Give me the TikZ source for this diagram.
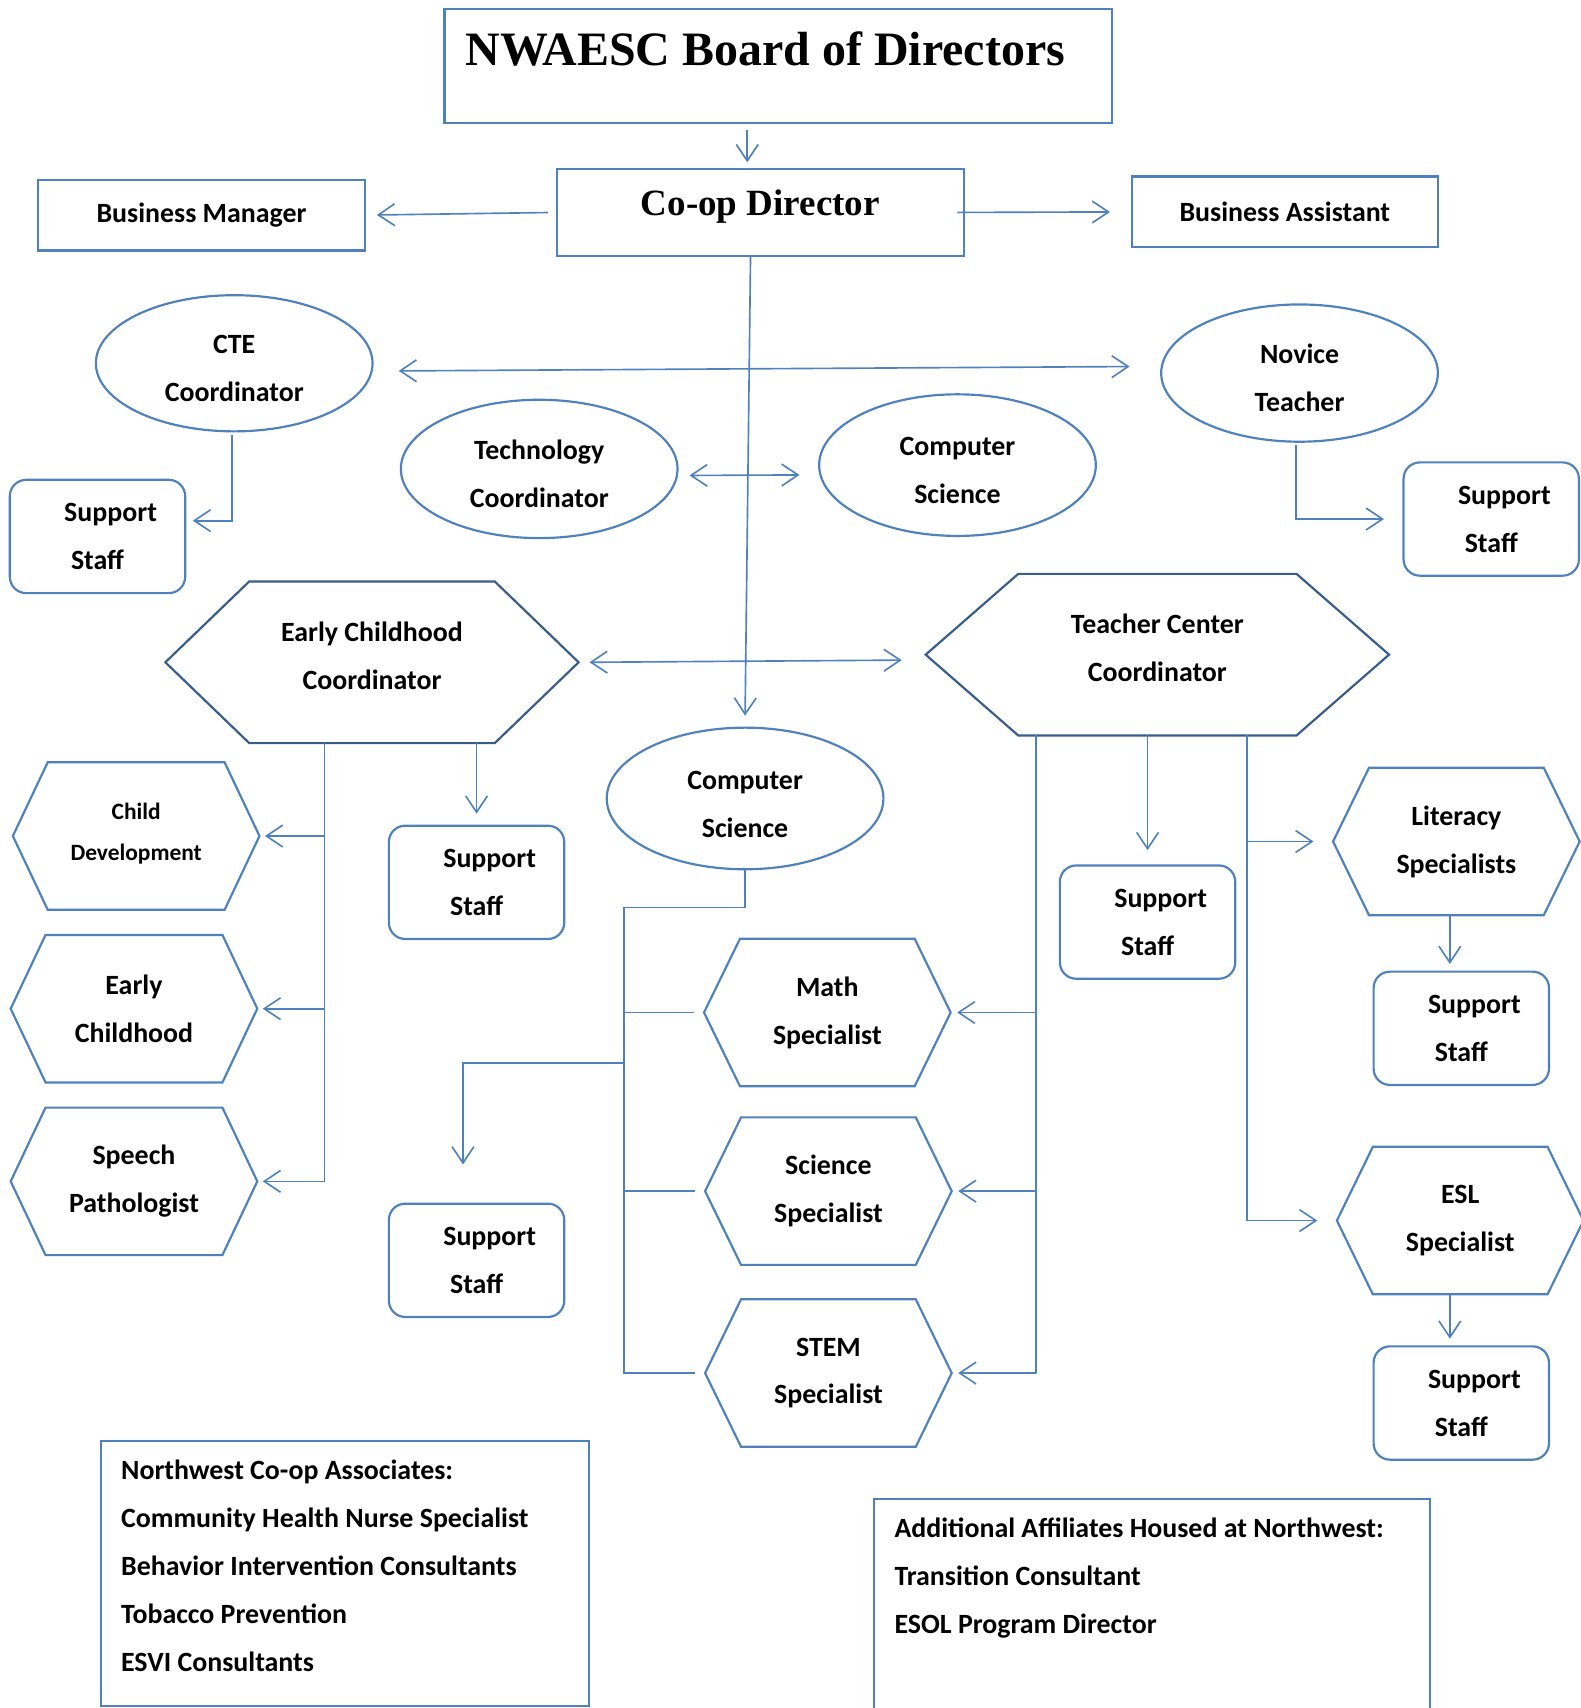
\documentclass[tikz,border=0pt]{standalone}
\usepackage{fontspec}
\setmainfont{Carlito}
\newfontfamily\timesf{Liberation Serif}
\usepackage{tikz}
\usetikzlibrary{shapes.geometric,arrows.meta,positioning,calc}
\definecolor{linec}{HTML}{4F81BD}
\definecolor{darkc}{HTML}{385D8A}
\newcommand{\sstext}{\hspace*{24pt}Support\\Staff}

\begin{document}
\begin{tikzpicture}[x=1pt, y=-1pt,
    lbl/.style={font=\fontsize{25.6}{44}\selectfont\bfseries, align=center},
    plainbox/.style={draw=linec, line width=2pt, rectangle, inner sep=0pt},
    ssbox/.style={lbl, draw=linec, line width=2pt, rounded corners=15pt, minimum width=161, minimum height=104, inner sep=0pt},
    oval/.style={lbl, draw=linec, line width=2pt, ellipse, inner sep=0pt, text height=71pt},
    hexa/.style={lbl, inner sep=0pt, minimum width=226, minimum height=135},
    conn/.style={draw=linec, line width=1.5pt},
    arr/.style={conn, -{Straight Barb[length=15pt, width=20pt]}},
    dblarr/.style={conn, {Straight Barb[length=15pt, width=20pt]}-{Straight Barb[length=15pt, width=20pt]}}]
    \useasboundingbox (0,0) rectangle (1451,1568);

    % top boxes
    \node[plainbox, minimum width=613, minimum height=105] (board) at (714.5,60.5) {};
    \node[font=\timesf\fontsize{44}{50}\selectfont\bfseries] (boardtxt) at (702.5,45) {NWAESC Board of Directors};
    \node[plainbox, minimum width=374, minimum height=80] (coop) at (698,195) {};
    \node[font=\timesf\fontsize{34}{40}\selectfont\bfseries] (cooptxt) at (698,190) {Co-op Director};
    \node[plainbox, lbl, minimum width=300, minimum height=65] (bmgr) at (185,197.5) {Business Manager};
    \node[plainbox, lbl, minimum width=281, minimum height=65] (basst) at (1179.5,194.5) {Business Assistant};

    % ellipses
    \node[oval, minimum width=254, minimum height=125] (cte) at (215,333.5) {CTE\\Coordinator};
    \node[oval, minimum width=254, minimum height=126] (nov) at (1193,342.5) {Novice\\Teacher};
    \node[oval, minimum width=254, minimum height=127] (tech) at (495,430.5) {Technology\\Coordinator};
    \node[oval, minimum width=254, minimum height=130] (cs1) at (879,427) {Computer\\Science};
    \node[oval, minimum width=254, minimum height=130] (cs2) at (684,733) {Computer\\Science};

    % hexagons
    \node[hexa, minimum width=379, minimum height=148, text depth=12pt] (ecc) at (341.5,608) {Early Childhood\\Coordinator};
    \node[hexa, minimum width=425, minimum height=148, text depth=12pt] (tcc) at (1062.5,601) {Teacher Center\\Coordinator};
    \node[hexa, font=\fontsize{21.5}{38}\selectfont\bfseries, text depth=8pt] (cd) at (125,767.5) {Child\\Development};
    \node[hexa] (ec) at (123,926) {Early\\Childhood};
    \node[hexa] (sp) at (123,1084.5) {Speech\\Pathologist};
    \node[hexa] (math) at (759.5,929.5) {Math\\Specialist};
    \node[hexa] (sci) at (760.5,1093.5) {Science\\Specialist};
    \node[hexa] (stem) at (760.5,1260.5) {STEM\\Specialist};
    \node[hexa] (lit) at (1337,772.5) {Literacy\\Specialists};
    \node[hexa] (esl) at (1340.5,1120.5) {ESL\\Specialist};
    \foreach \n/\c/\col in {ecc/77/darkc, tcc/85/darkc, cd/32/linec, ec/32/linec, sp/32/linec,
        math/33/linec, sci/33/linec, stem/33/linec, lit/33/linec, esl/33/linec}
        \draw[draw=\col, line width=2pt, line join=miter] (\n.west) -- ([xshift=\c pt]\n.north west) -- ([xshift=-\c pt]\n.north east)
            -- (\n.east) -- ([xshift=-\c pt]\n.south east) -- ([xshift=\c pt]\n.south west) -- cycle;

    % support staff
    \node[ssbox] (ss1) at (89.5,492.5) {\sstext};
    \node[ssbox] (ss2) at (1369,476.5) {\sstext};
    \node[ssbox] (ss3) at (437.5,810) {\sstext};
    \node[ssbox] (ss4) at (437.5,1157) {\sstext};
    \node[ssbox] (ss5) at (1053.5,846.5) {\sstext};
    \node[ssbox] (ss6) at (1341.5,944) {\sstext};
    \node[ssbox] (ss7) at (1341.5,1288) {\sstext};

    % info boxes
    \node[plainbox, minimum width=448, minimum height=243, anchor=north west] (assoc) at (92,1322) {};
    \node[lbl, align=left, inner sep=0pt, anchor=north west] (assoctxt) at ([xshift=19pt,yshift=-18pt]assoc.north west)
        {Northwest Co-op Associates:\\Community Health Nurse Specialist\\Behavior Intervention Consultants\\Tobacco Prevention\\ESVI Consultants};
    \node[plainbox, minimum width=511, minimum height=250, anchor=north west] (affil) at (801,1375) {};
    \node[lbl, align=left, inner sep=0pt, anchor=north west] (affiltxt) at ([xshift=20pt,yshift=-18pt]affil.north west)
        {Additional Affiliates Housed at Northwest:\\Transition Consultant\\ESOL Program Director};

    % connectors
    \draw[arr] ([xshift=-28.5pt,yshift=-5pt]board.south) -- ([xshift=-12pt,yshift=5pt]coop.north);
    \draw[arr, shorten <=7pt, shorten >=10pt] (coop.west) -- (bmgr.east);
    \draw[arr, shorten <=-7pt, shorten >=19pt] (coop.east) -- (basst.west);
    \draw[arr] ([xshift=-9pt]coop.south) -- ([yshift=10pt]cs2.north);
    \draw[dblarr] ([xshift=23pt,yshift=-7pt]cte.east) -- ([xshift=-28pt,yshift=6pt]nov.west);
    \draw[dblarr] ([xshift=10pt,yshift=-6pt]tech.east) -- ([xshift=-17pt,yshift=-9pt]cs1.west);
    \draw[arr] ([xshift=-2pt,yshift=-2pt]cte.south) |- ([xshift=6pt,yshift=14.5pt]ss1.east);
    \draw[arr] ([xshift=-3pt,yshift=-2pt]nov.south) |- ([xshift=-17pt]ss2.west);
    \draw[dblarr] ([xshift=10pt]ecc.east) -- ([xshift=-22pt,yshift=-5pt]tcc.west);

    % early childhood branch
    \coordinate (ecbus) at ([xshift=-43.5pt]ecc.south);
    \draw[conn] (ecbus) -- (ecbus |- sp.east);
    \foreach \n in {cd,ec,sp}
        \draw[arr] (ecbus |- \n.east) -- ([xshift=5pt]\n.east);
    \draw[arr] (ss3.north |- ecc.south) -- ([yshift=10pt]ss3.north);

    % computer science branch
    \coordinate (csbus) at (573,833);
    \coordinate (ssdrop) at (425,976);
    \draw[conn] (cs2.south) |- (csbus) -- (csbus |- stem.west) -- ([xshift=-9pt]stem.west);
    \foreach \n in {math,sci}
        \draw[conn] (csbus |- \n.west) -- ([xshift=-9pt]\n.west);
    \draw[arr] (csbus |- ssdrop) -- (ssdrop) -- ([xshift=-12.5pt,yshift=35pt]ss4.north);

    % teacher center branch
    \coordinate (tcbus) at ([xshift=-111.5pt]tcc.south);
    \coordinate (tcbus2) at ([xshift=82.5pt]tcc.south);
    \draw[conn] (tcbus) -- (tcbus |- stem.east);
    \foreach \n in {math,sci,stem}
        \draw[arr] (tcbus |- \n.east) -- ([xshift=6pt]\n.east);
    \draw[arr] (ss5.north |- tcc.south) -- ([yshift=13pt]ss5.north);
    \draw[conn] (tcbus2) -- (tcbus2 |- esl.west);
    \foreach \n in {lit,esl}
        \draw[arr] (tcbus2 |- \n.west) -- ([xshift=-18pt]\n.west);
    \draw[arr] ([xshift=-6pt]lit.south) -- ([xshift=-10.5pt,yshift=6pt]ss6.north);
    \draw[arr] ([xshift=-9.5pt]esl.south) -- ([xshift=-10.5pt,yshift=6pt]ss7.north);
\end{tikzpicture}
\end{document}
